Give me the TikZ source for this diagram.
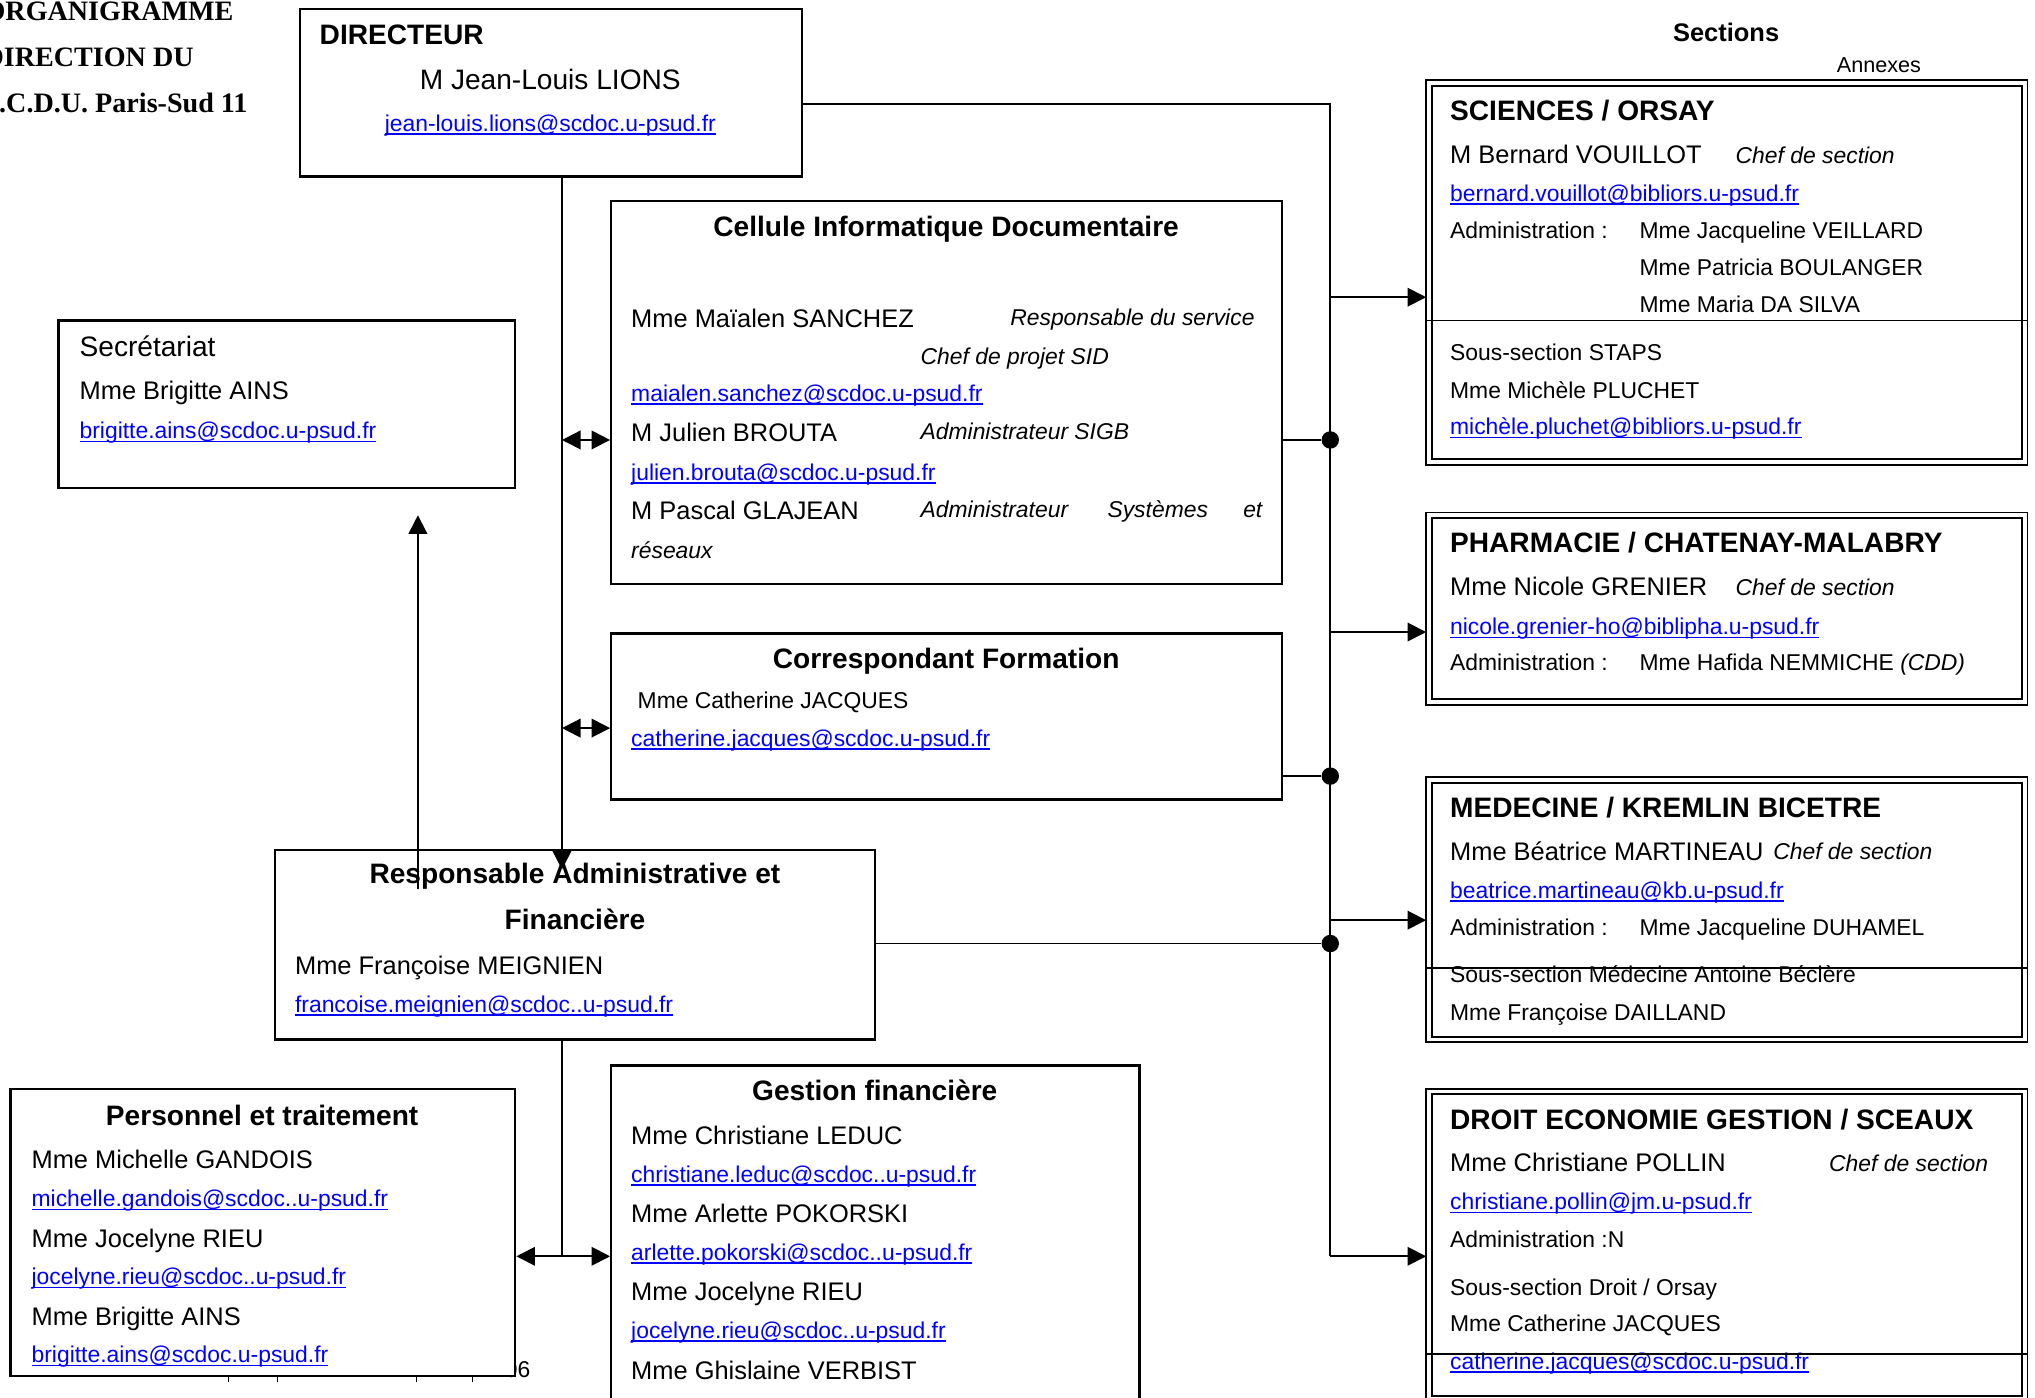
\documentclass[tikz,border=0pt]{standalone}
\usepackage{fontspec}
\setmainfont{Liberation Sans}
\newfontfamily\serifhead{Liberation Serif}
\usetikzlibrary{arrows.meta,fit}

\definecolor{mailblue}{RGB}{0,0,255}
\newsavebox\mailbox
\newcommand{\mail}[1]{\sbox\mailbox{#1}{\color{mailblue}\rlap{\rule[-1.5pt]{\wd\mailbox}{0.6pt}}#1}}

\tikzset{
  box/.style={draw, line width=1pt, inner sep=0pt},
  annex/.style={draw, double, double distance=1.6pt, line width=0.8pt, inner sep=0pt, outer sep=1.2pt},
  junct/.style={circle, fill, inner sep=0pt, minimum size=7.5pt},
  wire/.style={line width=0.8pt},
  lbl/.style={inner sep=0pt, anchor=base west},
  hdtext/.style={lbl, font=\fontsize{12.1}{14}\selectfont\bfseries},
  bigtext/.style={lbl, font=\fontsize{12.1}{14}\selectfont},
  nametext/.style={lbl, font=\fontsize{10.95}{13}\selectfont},
  smalltext/.style={lbl, font=\fontsize{9.85}{12}\selectfont},
  roletext/.style={lbl, font=\fontsize{9.85}{12}\selectfont\itshape},
  mailtext/.style={lbl, font=\fontsize{9.85}{12}\selectfont},
}

\begin{document}
\begin{tikzpicture}[x=0.5587pt,y=-0.5587pt,>={Triangle[length=8pt,width=8pt]}]
\useasboundingbox (0,0) rectangle (1568,1077);

% Title in the corner
\node[lbl, font=\serifhead\fontsize{12.1}{14}\selectfont\bfseries] (tit1) at (-13,16) {ORGANIGRAMME};
\node[lbl, font=\serifhead\fontsize{12.1}{14}\selectfont\bfseries] (tit2) at (-13,51) {DIRECTION DU};
\node[lbl, font=\serifhead\fontsize{12.1}{14}\selectfont\bfseries] (tit3) at (-13,87) {S.C.D.U. Paris-Sud 11};

% Footer remnant under the staff box
\node[smalltext, anchor=base east] (foot) at (409,1061) {06};
\foreach \tx in {176,214,321,364}
  \draw[line width=0.5pt] (\tx,1060) -- (\tx,1065);

% The boxes
\node[box, fit={(231,7) (618,136)}] (dir) {};
\node[box, fit={(471,155) (988,450)}] (cel) {};
\node[box, fit={(45,247) (397,376)}] (sec) {};
\node[box, fit={(471,488) (988,616)}] (cor) {};
\node[box, fit={(212,655) (674,801)}] (resp) {};
\node[box, fill=white, fit={(8,839) (397,1060)}] (pers) {};
\node[box, fit={(471,821) (878,1090)}] (ges) {};
\node[annex, fit={(1101,64) (1560,356)}] (sci) {};
\node[annex, fit={(1101,397) (1560,541)}] (pha) {};
\node[annex, fit={(1101,601) (1560,801)}] (med) {};
\node[annex, fit={(1101,841) (1560,1078)}] (dro) {};

% Directeur
\node[hdtext] (dir1) at (246,34) {DIRECTEUR};
\node[bigtext, anchor=base] (dir2) at (424,69) {M Jean-Louis LIONS};
\node[mailtext, anchor=base] (dir3) at (424,101) {\mail{jean-louis.lions@scdoc.u-psud.fr}};

% Cellule informatique
\node[hdtext, anchor=base] (cel1) at (729,182) {Cellule Informatique Documentaire};
\node[nametext] (cel2) at (486,252) {Mme Maïalen SANCHEZ};
\node[roletext, anchor=base east] (cel3) at (967,251) {Responsable du service};
\node[roletext] (cel4) at (709,281) {Chef de projet SID};
\node[mailtext] (cel5) at (486,309) {\mail{maialen.sanchez@scdoc.u-psud.fr}};
\node[nametext] (cel6) at (486,340) {M Julien BROUTA};
\node[roletext] (cel7) at (709,339) {Administrateur SIGB};
\node[mailtext] (cel8) at (486,370) {\mail{julien.brouta@scdoc.u-psud.fr}};
\node[nametext] (cel9) at (486,400) {M Pascal GLAJEAN};
\node[roletext] (cel10) at (709,399) {Administrateur};
\node[roletext] (cel11) at (853,399) {Systèmes};
\node[roletext, anchor=base east] (cel12) at (973,399) {et};
\node[roletext] (cel13) at (486,430) {réseaux};

% Secretariat
\node[bigtext] (sec1) at (61,275) {Secrétariat};
\node[nametext] (sec2) at (61,308) {Mme Brigitte AINS};
\node[mailtext] (sec3) at (61,338) {\mail{brigitte.ains@scdoc.u-psud.fr}};

% Correspondant
\node[hdtext, anchor=base] (cor1) at (729,515) {Correspondant Formation};
\node[smalltext] (cor2) at (491,546) {Mme Catherine JACQUES};
\node[mailtext] (cor3) at (486,575) {\mail{catherine.jacques@scdoc.u-psud.fr}};

% Responsable
\node[hdtext, anchor=base] (resp1) at (443,681) {Responsable Administrative et};
\node[hdtext, anchor=base] (resp2) at (443,716) {Financière};
\node[nametext] (resp3) at (227,751) {Mme Françoise MEIGNIEN};
\node[mailtext] (resp4) at (227,780) {\mail{francoise.meignien@scdoc..u-psud.fr}};

% Personnel
\node[hdtext, anchor=base] (pers1) at (202,867) {Personnel et traitement};
\node[nametext] (pers2) at (24,900) {Mme Michelle GANDOIS};
\node[mailtext] (pers3) at (24,930) {\mail{michelle.gandois@scdoc..u-psud.fr}};
\node[nametext] (pers4) at (24,961) {Mme Jocelyne RIEU};
\node[mailtext] (pers5) at (24,990) {\mail{jocelyne.rieu@scdoc..u-psud.fr}};
\node[nametext] (pers6) at (24,1021) {Mme Brigitte AINS};
\node[mailtext] (pers7) at (24,1050) {\mail{brigitte.ains@scdoc.u-psud.fr}};

% Gestion
\node[hdtext, anchor=base] (ges1) at (674,848) {Gestion financière};
\node[nametext] (ges2) at (486,882) {Mme Christiane LEDUC};
\node[mailtext] (ges3) at (486,911) {\mail{christiane.leduc@scdoc..u-psud.fr}};
\node[nametext] (ges4) at (486,942) {Mme Arlette POKORSKI};
\node[mailtext] (ges5) at (486,971) {\mail{arlette.pokorski@scdoc..u-psud.fr}};
\node[nametext] (ges6) at (486,1002) {Mme Jocelyne RIEU};
\node[mailtext] (ges7) at (486,1031) {\mail{jocelyne.rieu@scdoc..u-psud.fr}};
\node[nametext] (ges8) at (486,1063) {Mme Ghislaine VERBIST};

% Sections
\node[lbl, anchor=base, font=\fontsize{10.95}{13}\selectfont\bfseries] (sech) at (1330,32) {Sections};
\node[lbl, font=\fontsize{9.3}{11}\selectfont] (anx) at (1415,56) {Annexes};

\node[hdtext] (sci1) at (1117,93) {SCIENCES / ORSAY};
\node[nametext] (sci2) at (1117,126) {M Bernard VOUILLOT};
\node[roletext] (sci3) at (1337,126) {Chef de section};
\node[mailtext] (sci4) at (1117,155) {\mail{bernard.vouillot@bibliors.u-psud.fr}};
\node[smalltext] (sci5) at (1117,184) {Administration :};
\node[smalltext] (sci6) at (1263,184) {Mme Jacqueline VEILLARD};
\node[smalltext] (sci7) at (1263,212) {Mme Patricia BOULANGER};
\node[smalltext] (sci8) at (1263,241) {Mme Maria DA SILVA};
\node[smalltext] (sci9) at (1117,278) {Sous-section STAPS};
\node[smalltext] (sci10) at (1117,307) {Mme Michèle PLUCHET};
\node[mailtext] (sci11) at (1117,335) {\mail{michèle.pluchet@bibliors.u-psud.fr}};

\node[hdtext] (pha1) at (1117,426) {PHARMACIE / CHATENAY-MALABRY};
\node[nametext] (pha2) at (1117,459) {Mme Nicole GRENIER};
\node[roletext] (pha3) at (1337,459) {Chef de section};
\node[mailtext] (pha4) at (1117,489) {\mail{nicole.grenier-ho@biblipha.u-psud.fr}};
\node[smalltext] (pha5) at (1117,517) {Administration :};
\node[smalltext] (pha6) at (1263,517) {Mme Hafida NEMMICHE \textit{(CDD)}};

\node[hdtext] (med1) at (1117,630) {MEDECINE / KREMLIN BICETRE};
\node[nametext] (med2) at (1117,663) {Mme Béatrice MARTINEAU};
\node[roletext] (med3) at (1366,662) {Chef de section};
\node[mailtext] (med4) at (1117,692) {\mail{beatrice.martineau@kb.u-psud.fr}};
\node[smalltext] (med5) at (1117,721) {Administration :};
\node[smalltext] (med6) at (1263,721) {Mme Jacqueline DUHAMEL};
\node[smalltext] (med7) at (1117,757) {Sous-section Médecine Antoine Béclère};
\node[smalltext] (med8) at (1117,786) {Mme Françoise DAILLAND};

\node[hdtext] (dro1) at (1117,870) {DROIT ECONOMIE GESTION / SCEAUX};
\node[nametext] (dro2) at (1117,903) {Mme Christiane POLLIN};
\node[roletext] (dro3) at (1409,903) {Chef de section};
\node[mailtext] (dro4) at (1117,932) {\mail{christiane.pollin@jm.u-psud.fr}};
\node[smalltext] (dro5) at (1117,961) {Administration :N};
\node[smalltext] (dro6) at (1117,998) {Sous-section Droit / Orsay};
\node[smalltext] (dro7) at (1117,1026) {Mme Catherine JACQUES};
\node[mailtext] (dro8) at (1117,1055) {\mail{catherine.jacques@scdoc.u-psud.fr}};

% Sub-section rules
\coordinate (sep1) at (1330,247);
\coordinate (sep2) at (1330,746);
\coordinate (sep3) at (1330,1043);
\draw[wire] (sep1 -| sci.west) -- (sep1 -| sci.east);
\draw[wire] (sep2 -| med.west) -- (sep2 -| med.east);
\draw[wire] (sep3 -| dro.west) -- (sep3 -| dro.east);

% The trunk to the sections
\coordinate (t0) at (1025,80);
\coordinate (t4) at (1025,968);
\coordinate (b1) at (1025,229);
\coordinate (b2) at (1025,487);
\coordinate (b3) at (1025,709);
\draw[wire] (t0 -| dir.east) -- (t0) -- (t4);
\foreach \b/\s in {b1/sci, b2/pha, b3/med, t4/dro}
  \draw[wire,->] (\b) -- (\b -| \s.west);

\node[junct] (j1) at (1025,339) {};
\node[junct] (j2) at (1025,598) {};
\node[junct] (j3) at (1025,727) {};
\draw[wire] (j1 -| cel.east) -- (j1);
\draw[wire] (j2 -| cor.east) -- (j2);
\draw[wire] (j3 -| resp.east) -- (j3);

% The direction line
\coordinate (d1) at (433,670);
\coordinate (h1) at (433,339);
\coordinate (h2) at (433,561);
\draw[wire,->] (d1 |- dir.south) -- (d1);
\draw[wire,<->] (h1) -- (h1 -| cel.west);
\draw[wire,<->] (h2) -- (h2 -| cor.west);

\coordinate (s1) at (322,685);
\coordinate (s2) at (322,397);
\draw[wire,->] (s1) -- (s2);

\coordinate (g1) at (433,968);
\draw[wire] (g1 |- resp.south) -- (g1);
\draw[wire,<->] (g1 -| pers.east) -- (g1 -| ges.west);
\end{tikzpicture}
\end{document}
